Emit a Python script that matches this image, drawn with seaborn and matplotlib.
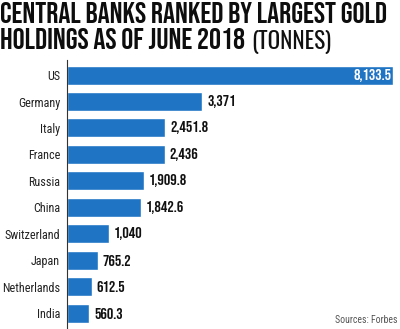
import matplotlib
matplotlib.use("Agg")
import matplotlib.pyplot as plt
import seaborn as sns
import pandas as pd

countries = ["US", "Germany", "Italy", "France", "Russia", "China",
             "Switzerland", "Japan", "Netherlands", "India"]
tonnes = [8133.5, 3371, 2451.8, 2436, 1909.8, 1842.6, 1040, 765.2, 612.5, 560.3]
value_labels = ["8,133.5", "3,371", "2,451.8", "2,436", "1,909.8", "1,842.6",
                "1,040", "765.2", "612.5", "560.3"]

sns.set_style("white")
COND = ['Roboto Condensed', 'DejaVu Sans']
HEAD = ['Bebas Neue', 'Oswald', 'Roboto Condensed', 'DejaVu Sans']
LIGHT = ['Oswald', 'Roboto Condensed', 'DejaVu Sans']
plt.rcParams['font.family'] = COND

df = pd.DataFrame({"country": countries, "tonnes": tonnes})

fig = plt.figure(figsize=(4.0, 3.29), dpi=100)
ax = fig.add_axes([67/400, 0.0, (393-67)/400, 1 - 60/329])
sns.barplot(data=df, x="tonnes", y="country", color="#1f74c4", saturation=1,
            width=0.72, ax=ax, orient="h")
ax.set_xlim(0, 8133.5)
ax.set_ylim(9.6, -0.57)
ax.set_xlabel("")
ax.set_ylabel("")
ax.set_xticks([])
for s in ["top", "right", "bottom"]:
    ax.spines[s].set_visible(False)
ax.spines["left"].set_color("#333333")
ax.spines["left"].set_linewidth(0.8)
ax.tick_params(axis="y", length=0, pad=5, labelsize=8.7)
for lab in ax.get_yticklabels():
    lab.set_color("#222222")

for i, (v, t) in enumerate(zip(tonnes, value_labels)):
    if i == 0:
        ax.text(v - 40, i, t, ha="right", va="center", color="white",
                fontsize=11.5, fontweight="bold", family=HEAD)
    else:
        ax.text(v + 130, i, t, ha="left", va="center", color="#111111",
                fontsize=11.5, fontweight="bold", family=HEAD)

t1 = fig.text(0.0, 1 - 23/329, "CENTRAL BANKS RANKED BY LARGEST GOLD", ha="left",
              va="baseline", fontsize=17, fontweight="bold", color="#0d0d0d", family=HEAD)
t2 = fig.text(0.0, 1 - 49/329, "HOLDINGS AS OF JUNE 2018", ha="left",
              va="baseline", fontsize=17, fontweight="bold", color="#0d0d0d", family=HEAD)
fig.canvas.draw()
r = fig.canvas.get_renderer()
w = t1.get_window_extent(r).width
fs = 17 * 388 / w
t1.set_fontsize(fs)
t2.set_fontsize(fs)
fig.canvas.draw()
x2 = t2.get_window_extent(r).x1
t3 = fig.text((x2 + 6) / 400, 1 - 49/329, "(TONNES)", ha="left", va="baseline",
              fontsize=fs, fontweight="light", color="#111111", family=LIGHT)
fig.canvas.draw()
w3 = t3.get_window_extent(r).width
t3.set_fontsize(fs * 80 / w3)

fig.text(0.993, 0.012, "Sources: Forbes", ha="right", va="bottom",
         fontsize=7, color="#555555")

fig.savefig("out.png", dpi=100)
